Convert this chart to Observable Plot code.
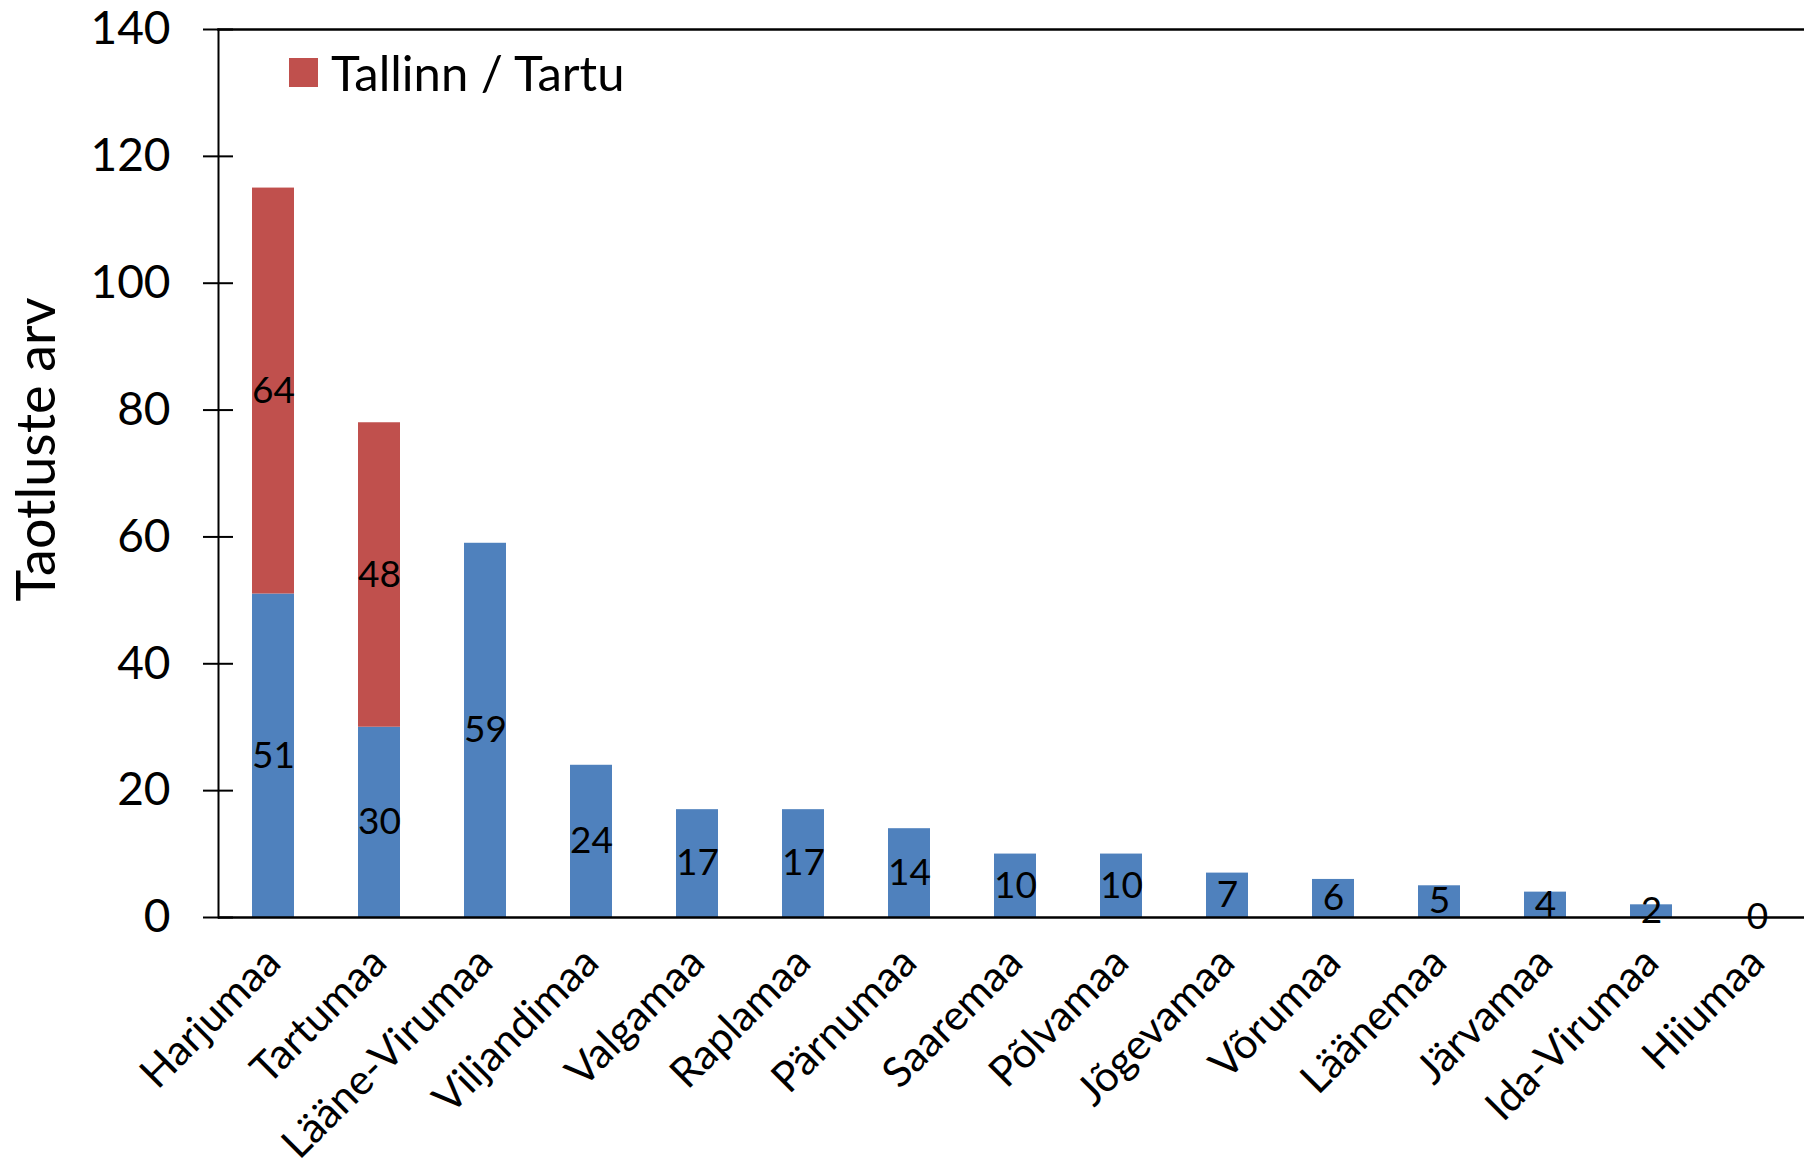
<!DOCTYPE html>
<html><head><meta charset="utf-8">
<script src="https://cdn.jsdelivr.net/npm/d3@7"></script>
<script src="https://cdn.jsdelivr.net/npm/@observablehq/plot@0.6"></script>
<style>
body{margin:0;background:#fff;}
#wrap{position:relative;width:1804px;height:1172px;font-family:Lato, sans-serif;overflow:hidden;}
#legend{position:absolute;left:289px;top:48px;display:flex;align-items:center;font-size:49px;color:#000;line-height:1;}
#legend .sw{display:inline-block;width:29px;height:29px;margin-right:13px;}
</style></head><body>
<div id="wrap"><div id="legend"><span class="sw"></span><span id="legtext"></span></div></div>
<script>
const counties = ["Harjumaa","Tartumaa","Lääne-Virumaa","Viljandimaa","Valgamaa","Raplamaa","Pärnumaa","Saaremaa","Põlvamaa","Jõgevamaa","Võrumaa","Läänemaa","Järvamaa","Ida-Virumaa","Hiiumaa"];
const countyValues = [51,30,59,24,17,17,14,10,10,7,6,5,4,2,0];
const cityValues = [64,48,0,0,0,0,0,0,0,0,0,0,0,0,0];
const seriesNames = ["Maakond","Tallinn / Tartu"];
const seriesColors = ["#4F81BD","#C0504D"];
const yTicks = [0,20,40,60,80,100,120,140];
const yLabel = "Taotluste arv";

const rows = [];
counties.forEach((c,i)=>{
  rows.push({county:c, series:seriesNames[0], value:countyValues[i]});
  if (cityValues[i] > 0) rows.push({county:c, series:seriesNames[1], value:cityValues[i]});
});

const plot = Plot.plot({
  width:1804, height:1172,
  marginTop:29, marginBottom:255, marginLeft:218, marginRight:-8,
  style:{fontFamily:"Lato, sans-serif", color:"#000", background:"#fff", overflow:"visible"},
  x:{domain:counties, paddingInner:0.6, paddingOuter:0.3, label:null},
  y:{domain:[0,140], label:null},
  color:{domain:seriesNames, range:seriesColors},
  marks:[
    Plot.barY(rows, {x:"county", y:"value", fill:"series", order:null}),
    Plot.text(rows, Plot.stackY({x:"county", y:"value", text:d=>String(d.value), z:"series", order:null, fontSize:37, fill:"#000"})),
    Plot.ruleY([0], {stroke:"#000", strokeWidth:2.5}),
    Plot.frame({anchor:"top", stroke:"#000", strokeWidth:2.5}),
    Plot.frame({anchor:"left", stroke:"#000", strokeWidth:2}),
    Plot.axisY({ticks:yTicks, tickSize:30, tickPadding:18, fontSize:46, strokeWidth:2, stroke:"#000", label:null}),
    Plot.axisX({tickRotate:-45, tickSize:0, tickPadding:38, fontSize:42, label:null}),
    Plot.text([yLabel], {frameAnchor:"left", textAnchor:"middle", text:d=>d, rotate:-90, dx:-181, dy:-24, fontSize:54, fill:"#000"})
  ]
});
document.getElementById("wrap").appendChild(plot);
// make y ticks cross the axis line
d3.select(plot).selectAll('g[aria-label="y-axis tick"]').each(function(){
  const t = this.getAttribute("transform") || "";
  this.setAttribute("transform", "translate(15,0) " + t);
});
document.querySelector("#legend .sw").style.background = seriesColors[1];
document.getElementById("legtext").textContent = seriesNames[1];
</script>
</body></html>
